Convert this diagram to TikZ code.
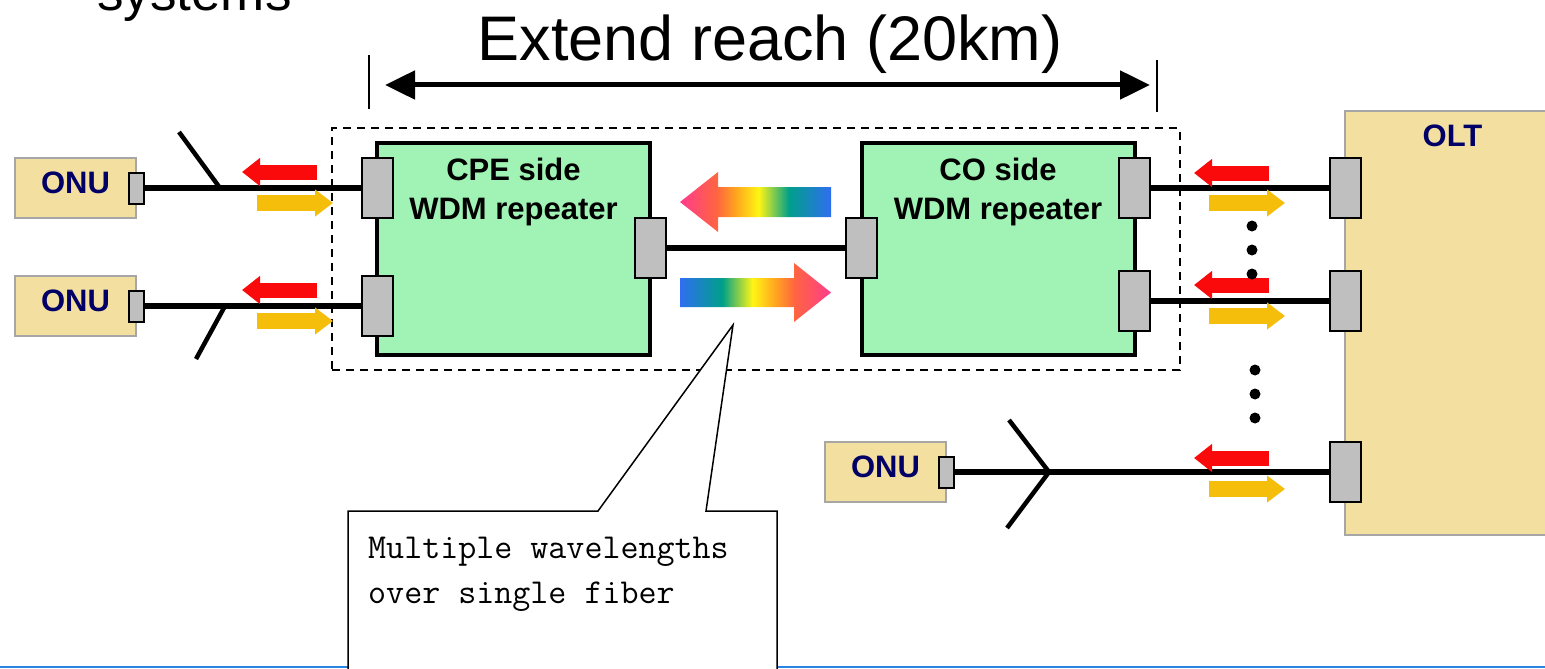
\documentclass[tikz,border=0pt]{standalone}
\usepackage{fontspec}
\setmainfont{Liberation Sans}
\usetikzlibrary{arrows.meta}
\usetikzlibrary{positioning}
\usetikzlibrary{fit}
\definecolor{repgreen}{HTML}{A0F3B4}
\definecolor{portgray}{HTML}{BFBFBF}
\definecolor{unitfill}{HTML}{F3DFA0}
\definecolor{unitgray}{HTML}{A6A6A6}
\definecolor{onublue}{HTML}{000066}
\definecolor{sigred}{HTML}{FA0A0A}
\definecolor{sigyellow}{HTML}{F5BE0A}
\definecolor{specblue}{HTML}{2F6EF0}
\definecolor{specteal}{HTML}{00A08A}
\definecolor{specyellow}{HTML}{FFF514}
\definecolor{specorange}{HTML}{FFA020}
\definecolor{specred}{HTML}{FF6442}
\definecolor{specpink}{HTML}{FF3C8C}
\definecolor{lineblue}{HTML}{2A85E0}
\pgfdeclarehorizontalshading{spectrum}{100bp}{color(0bp)=(specblue); color(25bp)=(specblue); color(39bp)=(specteal); color(49bp)=(specyellow); color(57bp)=(specorange); color(63bp)=(specred); color(75bp)=(specpink); color(100bp)=(specpink)}
\tikzset{
  repeater/.style = {rectangle, draw, line width = 4pt, fill = repgreen, minimum width = 273pt, minimum height = 212pt, outer sep = 0},
  boxtext/.style = {font = \bfseries\fontsize{31}{39}\selectfont, align = center, inner sep = 0},
  enclosure/.style = {draw, dash pattern = on 8pt off 6pt, line width = 2pt, inner xsep = 45pt, inner ysep = 15pt},
  unit/.style = {rectangle, draw = unitgray, line width = 1.5pt, fill = unitfill, minimum width = 121pt, minimum height = 60pt, outer sep = 0, text = onublue, font = \bfseries\fontsize{31}{37}\selectfont, text depth = 10pt},
  oltbox/.style = {unit, minimum width = 215pt, minimum height = 424pt},
  unitlabel/.style = {text = onublue, font = \bfseries\fontsize{31}{37}\selectfont, inner sep = 0},
  port/.style = {rectangle, draw, line width = 2pt, fill = portgray, minimum width = 31pt, minimum height = 60pt, inner sep = 0},
  onuport/.style = {port, minimum width = 15pt, minimum height = 31pt},
  fiber/.style = {line width = 5.5pt},
  branch/.style = {line width = 4.5pt},
  downsig/.style = {draw = sigred, line width = 15pt, -{Triangle[length = 18pt, width = 27pt]}},
  upsig/.style = {draw = sigyellow, line width = 16pt, -{Triangle[length = 18pt, width = 26pt]}},
  reacharrow/.style = {line width = 5pt, {Triangle[length = 30pt, width = 28pt]}-{Triangle[length = 30pt, width = 28pt]}},
  tick/.style = {line width = 2pt},
  callout/.style = {draw, fill = white, line width = 1.5pt},
  note/.style = {font = \ttfamily\fontsize{35}{45}\selectfont, align = left, inner sep = 0},
}

\begin{document}
\begin{tikzpicture}[x = 1pt, y = -1pt]
  \useasboundingbox (0,0) rectangle (1545,669);
  \clip (0,0) rectangle (1545,669);
  % titles
  \node [anchor = base west, inner sep = 0, font = \fontsize{53}{60}\selectfont] (systems) at (97,11) {systems};
  \node [anchor = base, inner sep = 0, font = \fontsize{63}{70}\selectfont] (reach) at (770,60) {Extend reach (20km)};
  \coordinate (reachleft) at (385,85);
  \coordinate (reachright) at (1150,85);
  \draw [tick] (369,55) -- (369,109);
  \draw [tick] (1157,60) -- (1157,112);
  \draw [reacharrow] (reachleft) -- (reachright);
  % nodes
  \node [repeater] (cpe) at (513.5,249) {};
  \node [repeater] (co) at (998,249) {};
  \node [boxtext, below = 15pt of cpe.north] (cpetext) {CPE side\\WDM repeater};
  \node [boxtext, below = 15pt of co.north] (cotext) {CO side\\WDM repeater};
  \node [enclosure, fit = (cpe) (co)] (repeaters) {};
  \node [unit] (onu1) at (75.5,188) {ONU};
  \node [unit] (onu2) at (75.5,306) {ONU};
  \node [unit] (onu3) at (885.5,472) {ONU};
  \node [oltbox] (olt) at (1452.5,323) {};
  \node [unitlabel, below = 14pt of olt.north] (oltlabel) {OLT};
  \node [onuport] (onuport1) at (onu1.east) {};
  \node [onuport] (onuport2) at (onu2.east) {};
  \node [onuport] (onuport3) at (onu3.east) {};
  \node [port] (cpein1) at (cpe.west |- onu1) {};
  \node [port] (cpein2) at (cpe.west |- onu2) {};
  \node [port] (cpeout) at ([yshift = 1pt]cpe.east) {};
  \node [port] (coin) at ([yshift = 1pt]co.west) {};
  \node [port] (coout1) at (co.east |- onu1) {};
  \node [port] (coout2) at ([yshift = -52pt]co.east) {};
  \node [port] (oltport1) at (olt.west |- coout1) {};
  \node [port] (oltport2) at (olt.west |- coout2) {};
  \node [port] (oltport3) at (olt.west |- onu3) {};
  % edges
  \draw [fiber] (onuport1) -- (cpein1);
  \draw [fiber] (onuport2) -- (cpein2);
  \draw [fiber] (cpeout) -- (coin);
  \draw [fiber] (coout1) -- (oltport1);
  \draw [fiber] (coout2) -- (oltport2);
  \draw [fiber] (onuport3) -- (oltport3);

  \coordinate (tap1) at (220,188);
  \coordinate (tap2) at (225,306);
  \coordinate (fork) at (1049,472);
  \draw [branch] (179,132) -- (tap1);
  \draw [branch] (tap2) -- (196,359);
  \draw [branch] (1009,420) -- (fork) -- (1007,528);

  \draw [downsig] (317,172) -- (242,172);
  \draw [upsig] (257,203) -- (333,203);
  \draw [downsig] (317,290) -- (242,290);
  \draw [upsig] (257,321) -- (333,321);
  \draw [downsig] (1269,173) -- (1194,173);
  \draw [upsig] (1209,203) -- (1285,203);
  \draw [downsig] (1269,285) -- (1194,285);
  \draw [upsig] (1209,316) -- (1285,316);
  \draw [downsig] (1269,458) -- (1194,458);
  \draw [upsig] (1209,489) -- (1285,489);

  \shade [shading = spectrum, shading angle = 180] (680,202) -- (718,172) -- (718,187) -- (831,187) -- (831,217) -- (718,217) -- (718,232) -- cycle;
  \shade [shading = spectrum] (680,278) -- (794,278) -- (794,263) -- (831,292.5) -- (794,322) -- (794,307) -- (680,307) -- cycle;

  \fill (1252,226) circle (5.5pt);
  \fill (1252,250) circle (5.5pt);
  \fill (1252,274) circle (5.5pt);
  \fill (1255,370) circle (5.5pt);
  \fill (1255,394) circle (5.5pt);
  \fill (1255,418) circle (5.5pt);

  % note
  \draw [line width = 2pt, lineblue] (0,667) -- (1545,667);
  \coordinate (pointer) at (733,325);
  \draw [callout] (348,700) -- (348,511) -- (598,511) -- (pointer) -- (706,511) -- (777,511) -- (777,700);
  \node [note, anchor = north west] (notetext) at (368,537) {Multiple wavelengths\\over single fiber};
\end{tikzpicture}
\end{document}
